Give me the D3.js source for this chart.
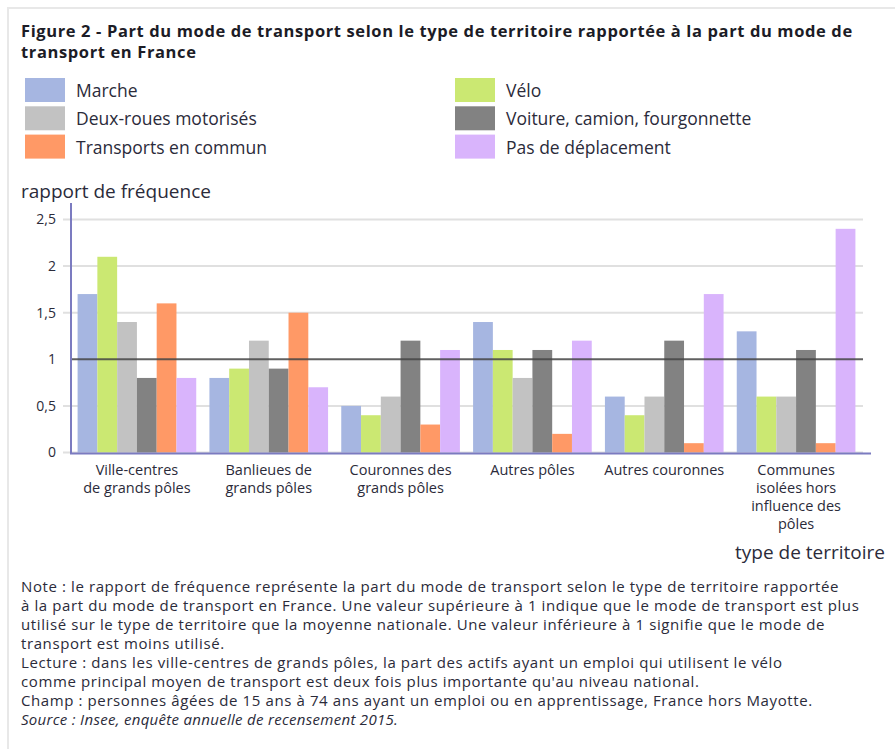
<!DOCTYPE html>
<html lang="fr">
    <head>
        <title>Figure 2</title>
        <meta charset="utf-8">
        <script src="https://d3js.org/d3.v7.min.js"></script>
        <style>
            * {
                margin: 0;
                padding: 0;
            }
            body {
                background-color: white;
                width: 895px;
                height: 749px;
                overflow: hidden;
            }
            text {
                font-family: "Open Sans", sans-serif;
                fill: #2b2b3a;
            }
        </style>
    </head>
    <body>
        <script>

            const territoires = [
                ["Ville-centres", "de grands pôles"],
                ["Banlieues de", "grands pôles"],
                ["Couronnes des", "grands pôles"],
                ["Autres pôles"],
                ["Autres couronnes"],
                ["Communes", "isolées hors", "influence des", "pôles"]
            ];

            const modes = ["Marche", "Vélo", "Deux-roues motorisés", "Voiture, camion, fourgonnette", "Transports en commun", "Pas de déplacement"];
            const couleurs = ["#a6b6e1", "#cbe872", "#c2c2c2", "#828282", "#ff9966", "#d9b4fc"];

            const marche = [1.7, 0.8, 0.5, 1.4, 0.6, 1.3];
            const velo = [2.1, 0.9, 0.4, 1.1, 0.4, 0.6];
            const deuxRoues = [1.4, 1.2, 0.6, 0.8, 0.6, 0.6];
            const voiture = [0.8, 0.9, 1.2, 1.1, 1.2, 1.1];
            const transportsCommun = [1.6, 1.5, 0.3, 0.2, 0.1, 0.1];
            const pasDeplacement = [0.8, 0.7, 1.1, 1.2, 1.7, 2.4];

            const yTicks = [0, 0.5, 1, 1.5, 2, 2.5];

            const series = [marche, velo, deuxRoues, voiture, transportsCommun, pasDeplacement];

            const w = 895;
            const h = 749;

            const svg = d3.select("body")
                .append("svg")
                .attr("width", w)
                .attr("height", h);

            // cadre
            svg.append("rect")
                .attr("x", 8)
                .attr("y", 8)
                .attr("width", w + 20)
                .attr("height", h + 20)
                .attr("fill", "none")
                .attr("stroke", "#e8e8e8")
                .attr("stroke-width", 2);

            // titre
            const titre = ["Figure 2 - Part du mode de transport selon le type de territoire rapportée à la part du mode de", "transport en France"];
            svg.selectAll("text.titre")
                .data(titre)
                .enter()
                .append("text")
                .attr("class", "titre")
                .attr("x", 21)
                .attr("y", (d, i) => 37 + i * 21)
                .attr("font-size", "16.5px")
                .attr("letter-spacing", "0.62px")
                .attr("font-weight", "bold")
                .style("fill", "#1c1c26")
                .text(d => d);

            // légende
            const legend = svg.selectAll("g.legend")
                .data(modes)
                .enter()
                .append("g")
                .attr("class", "legend")
                .attr("transform", (d, i) => `translate(${i % 2 === 0 ? 25 : 455}, ${78 + Math.floor(i / 2) * 28.3})`);

            legend.append("rect")
                .attr("width", 40)
                .attr("height", 24)
                .attr("fill", (d, i) => couleurs[i]);

            legend.append("text")
                .attr("x", 51)
                .attr("y", 19)
                .attr("font-size", "17.5px")
                .text(d => d);

            const x0 = d3.scaleBand()
                .domain(d3.range(territoires.length))
                .range([71, 862])
                .paddingInner(0.1)
                .paddingOuter(0.05);

            const x1 = d3.scaleBand()
                .domain(d3.range(modes.length))
                .range([0, x0.bandwidth()]);

            const yScale = d3.scaleLinear()
                .domain([0, 2.5])
                .range([452.5, 219.5]);

            // grille
            svg.selectAll("line.grid")
                .data(yTicks.filter(t => t !== 1))
                .enter()
                .append("line")
                .attr("class", "grid")
                .attr("x1", 63)
                .attr("x2", 863)
                .attr("y1", d => yScale(d))
                .attr("y2", d => yScale(d))
                .attr("stroke", "#e0e0e0")
                .attr("stroke-width", 2);

            // axe y
            const yAxis = d3.axisLeft(yScale)
                .tickValues(yTicks)
                .tickSize(0)
                .tickPadding(15)
                .tickFormat(d => String(d).replace(".", ","));

            const gy = svg.append("g")
                .attr("transform", "translate(71, 0)")
                .call(yAxis);
            gy.select(".domain").remove();
            gy.selectAll("text")
                .attr("font-size", "14px")
                .style("font-family", "'Open Sans', sans-serif")
                .style("fill", "#2b2b3a");

            // barres
            const groupes = svg.selectAll("g.groupe")
                .data(territoires)
                .enter()
                .append("g")
                .attr("class", "groupe")
                .attr("transform", (d, i) => `translate(${x0(i)}, 0)`);

            groupes.selectAll("rect")
                .data((d, i) => series.map((s, j) => ({ mode: j, valeur: s[i] })))
                .enter()
                .append("rect")
                .attr("x", d => x1(d.mode))
                .attr("y", d => yScale(d.valeur))
                .attr("width", x1.bandwidth())
                .attr("height", d => yScale(0) - yScale(d.valeur))
                .attr("fill", d => couleurs[d.mode]);

            // ligne de référence à 1
            svg.append("line")
                .attr("x1", 71)
                .attr("x2", 863)
                .attr("y1", yScale(1))
                .attr("y2", yScale(1))
                .attr("stroke", "#444")
                .attr("stroke-opacity", 0.85)
                .attr("stroke-width", 2);

            // axes
            svg.append("line")
                .attr("x1", 71)
                .attr("x2", 71)
                .attr("y1", 203)
                .attr("y2", 454)
                .attr("stroke", "#7b7bc0")
                .attr("stroke-width", 2);

            svg.append("line")
                .attr("x1", 70)
                .attr("x2", 871)
                .attr("y1", 453.5)
                .attr("y2", 453.5)
                .attr("stroke", "#7b7bc0")
                .attr("stroke-width", 2);

            // étiquettes x
            const xLabels = svg.selectAll("text.xlabel")
                .data(territoires)
                .enter()
                .append("text")
                .attr("class", "xlabel")
                .attr("text-anchor", "middle")
                .attr("font-size", "14.5px")
                .attr("transform", (d, i) => `translate(${x0(i) + x0.bandwidth() / 2}, 475)`);

            xLabels.selectAll("tspan")
                .data(d => d)
                .enter()
                .append("tspan")
                .attr("x", 0)
                .attr("y", (d, i) => i * 18)
                .text(d => d);

            // titres des axes
            svg.append("text")
                .attr("x", 21)
                .attr("y", 198)
                .attr("font-size", "19px")
                .text("rapport de fréquence");

            svg.append("text")
                .attr("x", 885)
                .attr("y", 559)
                .attr("text-anchor", "end")
                .attr("font-size", "19px")
                .text("type de territoire");

            // notes
            const notes = [
                "Note : le rapport de fréquence représente la part du mode de transport selon le type de territoire rapportée",
                "à la part du mode de transport en France. Une valeur supérieure à 1 indique que le mode de transport est plus",
                "utilisé sur le type de territoire que la moyenne nationale. Une valeur inférieure à 1 signifie que le mode de",
                "transport est moins utilisé.",
                "Lecture : dans les ville-centres de grands pôles, la part des actifs ayant un emploi qui utilisent le vélo",
                "comme principal moyen de transport est deux fois plus importante qu'au niveau national.",
                "Champ : personnes âgées de 15 ans à 74 ans ayant un emploi ou en apprentissage, France hors Mayotte.",
                "Source : Insee, enquête annuelle de recensement 2015."
            ];

            svg.selectAll("text.note")
                .data(notes)
                .enter()
                .append("text")
                .attr("class", "note")
                .attr("x", 21)
                .attr("y", (d, i) => 592 + i * 19)
                .attr("font-size", "15px")
                .attr("letter-spacing", (d, i) => i === notes.length - 1 ? "0.3px" : "0.6px")
                .attr("font-style", (d, i) => i === notes.length - 1 ? "italic" : "normal")
                .text(d => d);

        </script>
    </body>
</html>
